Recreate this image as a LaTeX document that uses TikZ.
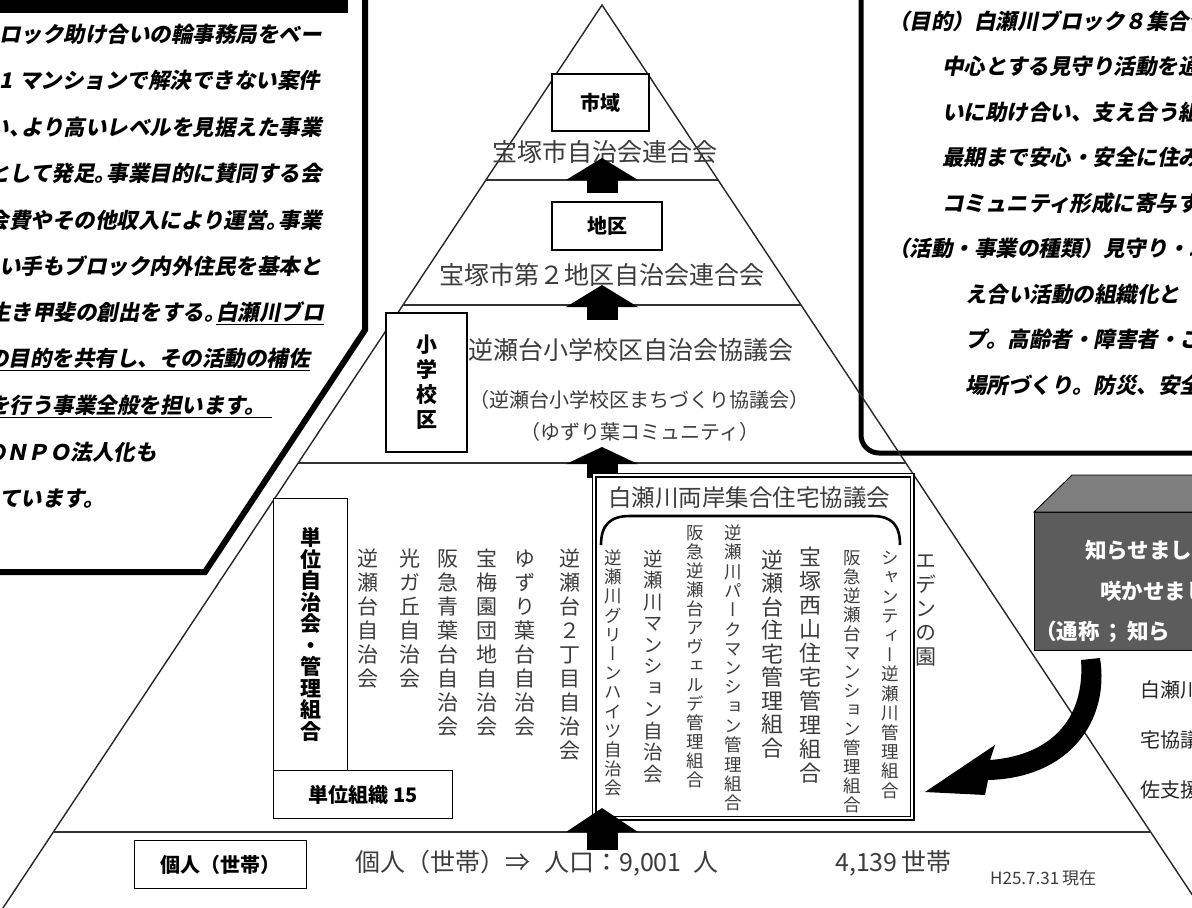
\documentclass[tikz,border=0pt]{standalone}
\usepackage{fontspec}
\newfontfamily\jp{Noto Sans CJK JP}
\newfontfamily\jpv{Noto Sans CJK JP}[RawFeature=+vert]
\newfontfamily\jpi{Noto Sans CJK JP}[FakeSlant=0.2]
\usetikzlibrary{arrows.meta}
\definecolor{inkgray}{HTML}{3C3C3C}
\definecolor{boxfront}{HTML}{5C5C5C}
\definecolor{boxtop}{HTML}{7E7E7E}

\newcommand\vcol[4]{{#1\fontsize{#2}{#2}\selectfont
  \def\vcolsz{#2}\def\vcolp{#3}%
  \vbox{\offinterlineskip\vcolaux#4\relax}}}
\def\vcolaux#1{\ifx\relax#1\else
  \vbox to \vcolp{\vss\hbox to \vcolp{\hss\smash{#1}\hss}\kern\dimexpr(\vcolp-\vcolsz)/2+\vcolsz*12/100\relax}%
  \expandafter\vcolaux\fi}

\newcommand\blockup[4]{%
  \fill (587,#4) rectangle (618,#3);
  \fill (566,#3) -- (602,#2) -- (638,#3) -- cycle;
  \coordinate (#1) at (602,#2);}

\tikzset{
  pyr/.style={line width=1.4pt, draw=black!85},
  band/.style={line width=2pt, draw=black!80},
  lbl/.style={draw, line width=1.3pt, fill=white, inner sep=0pt, font=\jp\bfseries\fontsize{20}{20}\selectfont},
  gt/.style={inner sep=0pt, text=inkgray},
  gt25/.style={gt, font=\jp\fontsize{25}{25}\selectfont},
  gt20/.style={gt, font=\jp\fontsize{20}{20}\selectfont},
  itx/.style={inner sep=0pt, font=\jpi\bfseries\fontsize{21.5}{22}\selectfont},
  rtx/.style={inner sep=0pt, anchor=west, text=black!85, font=\jp\fontsize{20}{20}\selectfont},
  wtx/.style={inner sep=0pt, anchor=west, text=white, font=\jp\bfseries\fontsize{21.5}{22}\selectfont},
}

\begin{document}
\begin{tikzpicture}[x=1pt,y=-1pt]
\useasboundingbox (0,0) rectangle (1192,908);
\clip (0,0) rectangle (1192,908);

% ---------- left text box ----------
\fill (-5,-5) rectangle (348,13);
\draw[line width=6pt] (365,-10) -- (365,330) -- (205,572) -- (-10,572);
\node[itx, anchor=east] (l1) at (322,34) {ロック助け合いの輪事務局をベー};
\node[itx, anchor=west] (l2) at (19,80.5) {\llap{1\hspace{7pt}}マンションで解決できない案件};
\node[itx, anchor=east] (l3) at (322,127) {い\makebox[0.55em][l]{、}より高いレベルを見据えた事業};
\node[itx, anchor=east] (l4) at (322,173.5) {として発足\makebox[0.55em][l]{。}事業目的に賛同する会};
\node[itx, anchor=east] (l5) at (322,220) {会費やその他収入により運営\makebox[0.55em][l]{。}事業};
\node[itx, anchor=east] (l6) at (322,266.5) {い手もブロック内外住民を基本と};
\node[itx, anchor=east] (l7) at (324,313) {生き甲斐の創出をする\makebox[0.55em][l]{。}\underline{白瀬川ブロ}};
\node[itx, anchor=east] (l8) at (310,359.5) {\underline{の目的を共有し、その活動の補佐}};
\node[itx, anchor=west] (l9) at (-12,406) {\underline{を行う事業全般を担います。\hspace{6pt}}};
\node[itx, anchor=east] (l10) at (157,452.5) {のＮＰＯ法人化も};
\node[itx, anchor=east] (l11) at (105,499) {えています。};

% ---------- right text box ----------
\draw[line width=5pt, rounded corners=18pt] (861,-10) -- (861,453) -- (1210,453);
\node[itx, anchor=west] (r1) at (888,21) {（目的）白瀬川ブロック８集合住};
\node[itx, anchor=west] (r2) at (942,66.5) {中心とする見守り活動を通};
\node[itx, anchor=west] (r3) at (942,112) {いに助け合い、支え合う組};
\node[itx, anchor=west] (r4) at (942,157.5) {最期まで安心・安全に住み};
\node[itx, anchor=west] (r5) at (942,203) {コミュニティ形成に寄与す};
\node[itx, anchor=west] (r6) at (888,248.5) {（活動・事業の種類）見守り・助};
\node[itx, anchor=west] (r7) at (965,294) {え合い活動の組織化と};
\node[itx, anchor=west] (r8) at (965,339.5) {プ。高齢者・障害者・こ};
\node[itx, anchor=west] (r9) at (965,385) {場所づくり。防災、安全};

% ---------- pyramid ----------
\draw[pyr] (-3,917) -- (602,5) -- (1207,917);
\draw[band] (486,180) -- (718,180);
\draw[band] (403,305) -- (801,305);
\draw[band] (298,463) -- (906,463);
\draw[band] (54,832) -- (1150,832);

% tier: city
\node[lbl, minimum width=97, minimum height=57] (shiiki) at (600.5,102.5) {市域};
\node[gt25] (t1) at (605,152) {宝塚市自治会連合会};
\blockup{a1}{158}{180}{193}
% tier: district
\node[lbl, minimum width=110, minimum height=48] (chiku) at (607,226) {地区};
\node[gt25] (t2) at (602,275) {宝塚市第２地区自治会連合会};
\blockup{a2}{285}{307}{320}
% tier: school district
\node[lbl, minimum width=81, minimum height=139] (shogakko) at (426.5,382.5) {\vcol{\jp\bfseries}{21pt}{25pt}{小学校区}};
\node[gt25] (t3) at (631,350) {逆瀬台小学校区自治会協議会};
\node[gt20] (t4) at (639,400) {（逆瀬台小学校区まちづくり協議会）};
\node[gt20] (t5) at (640,432) {（ゆずり葉コミュニティ）};
\blockup{a3}{447}{464}{478}

% tier: unit organisations
\node[lbl, minimum width=74, minimum height=272, anchor=north west] (tani) at (273,498) {\vcol{\jp\bfseries}{21pt}{21.5pt}{単位自治会・管理組合}};
\node[lbl, minimum width=179, minimum height=48, anchor=north west] (tani15) at (273,770) {単位組織 15};

\node[gt, anchor=north] (c1) at (570,546) {\vcol{\jpv}{21pt}{24pt}{逆瀬台２丁目自治会}};
\node[gt, anchor=north] (c2) at (525,546) {\vcol{\jpv}{21pt}{24pt}{ゆずり葉台自治会}};
\node[gt, anchor=north] (c3) at (487,546) {\vcol{\jpv}{21pt}{24pt}{宝梅園団地自治会}};
\node[gt, anchor=north] (c4) at (448,546) {\vcol{\jpv}{21pt}{24pt}{阪急青葉台自治会}};
\node[gt, anchor=north] (c5) at (410,546) {\vcol{\jpv}{21pt}{24pt}{光ガ丘自治会}};
\node[gt, anchor=north] (c6) at (368,546) {\vcol{\jpv}{21pt}{24pt}{逆瀬台自治会}};

% 白瀬川 council box
\node[draw, line width=1.2pt, double, double distance=2.6pt, minimum width=318, minimum height=343, anchor=north west, inner sep=0pt] (kyogikai) at (593.5,474.5) {};
\node[gt, font=\jp\fontsize{23.5}{24}\selectfont] (kt) at (749,498) {白瀬川両岸集合住宅協議会};
\draw[line width=2.6pt] (601,545) .. controls (601,525) and (610,516) .. (630,516) -- (872,516) .. controls (892,516) and (900,525) .. (900,545);

\node[gt, anchor=north] (k1) at (890,548) {\vcol{\jpv}{17.5pt}{19.4pt}{シャンティー逆瀬川管理組合}};
\node[gt, anchor=north] (k2) at (852,548) {\vcol{\jpv}{17.5pt}{19pt}{阪急逆瀬台マンション管理組合}};
\node[gt, anchor=north] (k3) at (810,545) {\vcol{\jpv}{22pt}{24pt}{宝塚西山住宅管理組合}};
\node[gt, anchor=north] (k4) at (772,548) {\vcol{\jpv}{22pt}{23.5pt}{逆瀬台住宅管理組合}};
\node[gt, anchor=north] (k5) at (733,523) {\vcol{\jpv}{17.5pt}{19.3pt}{逆瀬川パークマンション管理組合}};
\node[gt, anchor=north] (k6) at (695,523) {\vcol{\jpv}{17.5pt}{19pt}{阪急逆瀬台アヴェルデ管理組合}};
\node[gt, anchor=north] (k7) at (653,548) {\vcol{\jpv}{19.5pt}{21.5pt}{逆瀬川マンション自治会}};
\node[gt, anchor=north] (k8) at (613,548) {\vcol{\jpv}{17.5pt}{19.2pt}{逆瀬川グリーンハイツ自治会}};

\node[gt, anchor=north] (eden) at (926,548) {\vcol{\jpv}{21pt}{24pt}{エデンの園}};

\blockup{a4}{808}{832}{850}

% ---------- grey 3D box and curved arrow ----------
\filldraw[fill=boxfront, draw=black, line width=0.8pt] (1034,512) rectangle (1200,650);
\filldraw[fill=boxtop, draw=black, line width=0.8pt] (1034,512) -- (1072,475) -- (1200,475) -- (1200,512) -- cycle;
\node[wtx] (g1) at (1085,550) {知らせまし};
\node[wtx] (g2) at (1100,591) {咲かせまし};
\node[wtx] (g3) at (1035,632) {（通称\hspace{3pt}；\hspace{3pt}知ら};

\fill (1081,660) .. controls (1085,715) and (1055,755) .. (990,760) -- (995,745) -- (925,792) -- (985,795) -- (988,780) .. controls (1070,778) and (1110,720) .. (1100,658) -- cycle;

\node[rtx] (s1) at (1140,690) {白瀬川};
\node[rtx] (s2) at (1140,740) {宅協議};
\node[rtx] (s3) at (1140,790) {佐支援};

% ---------- bottom tier ----------
\node[lbl, minimum width=172, minimum height=48, anchor=north west] (kojin) at (134,840) {個人（世帯）};
\node[gt25, anchor=west] (b1) at (355,863) {個人（世帯）⇒\hspace{14pt}人口：9,001\hspace{12pt}人};
\node[gt25, anchor=west] (b2) at (835,863) {4,139\hspace{4pt}世帯};
\node[gt, anchor=west, font=\jp\fontsize{17}{17}\selectfont] (b3) at (990,878) {H25.7.31\hspace{3pt}現在};
\end{tikzpicture}
\end{document}
